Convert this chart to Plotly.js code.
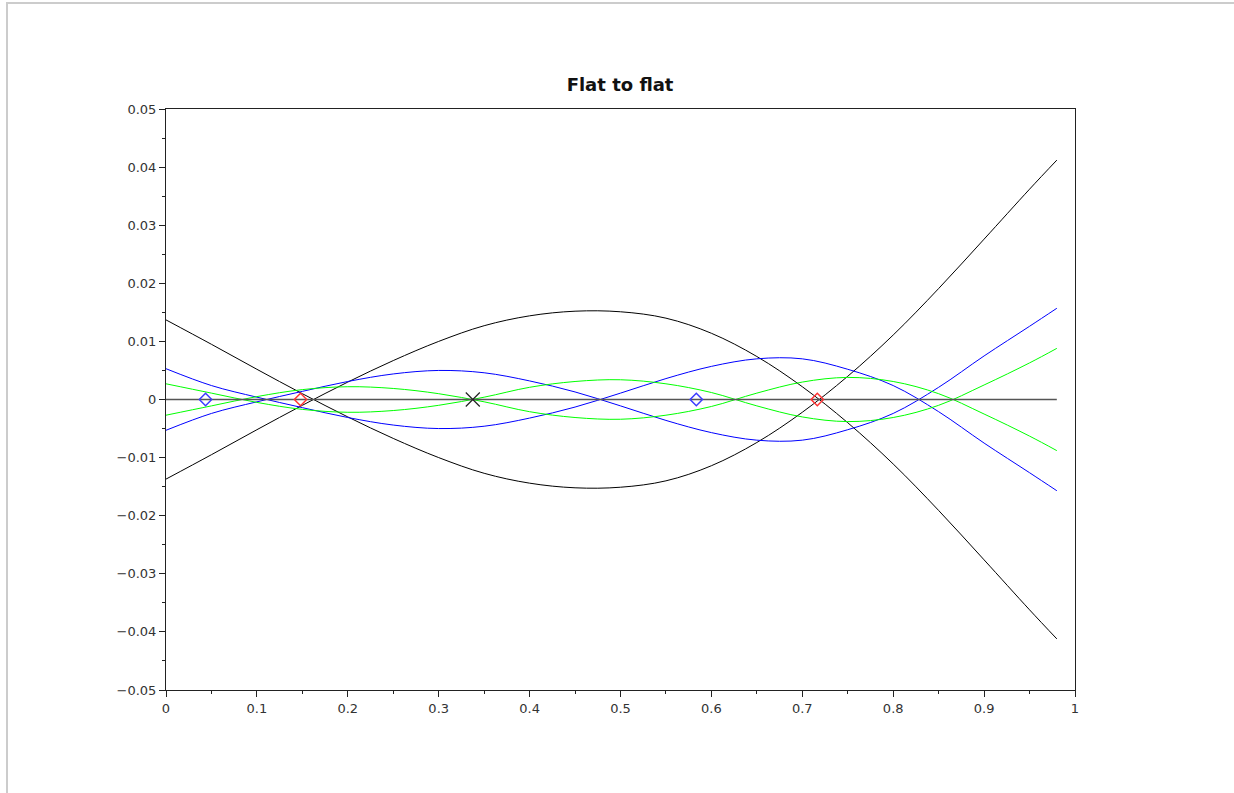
<!DOCTYPE html>
<html>
<head>
<meta charset="utf-8">
<script src="https://cdn.plot.ly/plotly-3.0.1.min.js"></script>
<style>
  html, body { margin: 0; padding: 0; background: #ffffff; }
  #frame { position: absolute; left: 6px; top: 2px; width: 1228px; height: 791px;
           border-left: 2px solid #cccccc; border-top: 2px solid #cccccc; box-sizing: border-box; }
  #chart { position: absolute; left: 0; top: 0; width: 1234px; height: 793px; }
</style>
</head>
<body>
<div id="frame"></div>
<div id="chart"></div>
<script>
// ---- data ----
const chartTitle = "Flat to flat";

const xs = [0, 0.05, 0.1, 0.15, 0.2, 0.25, 0.3, 0.35, 0.4, 0.45, 0.5, 0.55, 0.6, 0.65, 0.7, 0.75, 0.8, 0.85, 0.9, 0.95, 0.98];

const blackUp = [0.0137, 0.0095, 0.0052, 0.0010, -0.0030, -0.0067, -0.0100, -0.0127, -0.0144, -0.0152, -0.0151, -0.0140, -0.0114, -0.0074, -0.0022, 0.0040, 0.0111, 0.0191, 0.0276, 0.0362, 0.0412];
const blackDn = [-0.0137, -0.0095, -0.0052, -0.0010, 0.0030, 0.0067, 0.0100, 0.0127, 0.0144, 0.0152, 0.0151, 0.0140, 0.0114, 0.0074, 0.0022, -0.0040, -0.0111, -0.0191, -0.0276, -0.0362, -0.0412];

const blueA = [0.0053, 0.0024, 0.0004, -0.0014, -0.0031, -0.0044, -0.0050, -0.0046, -0.0032, -0.0013, 0.0011, 0.0036, 0.0057, 0.0070, 0.0070, 0.0052, 0.0024, -0.0021, -0.0075, -0.0126, -0.0157];
const blueB = [-0.0053, -0.0024, -0.0004, 0.0014, 0.0031, 0.0044, 0.0050, 0.0046, 0.0032, 0.0013, -0.0011, -0.0036, -0.0057, -0.0070, -0.0070, -0.0052, -0.0024, 0.0021, 0.0075, 0.0126, 0.0157];

const greenA = [0.0027, 0.0011, -0.0005, -0.0017, -0.0022, -0.0019, -0.0010, 0.0004, 0.0021, 0.0031, 0.0034, 0.0027, 0.0012, -0.0011, -0.0030, -0.0038, -0.0031, -0.0010, 0.0025, 0.0063, 0.0088];
const greenB = [-0.0027, -0.0011, 0.0005, 0.0017, 0.0022, 0.0019, 0.0010, -0.0004, -0.0021, -0.0031, -0.0034, -0.0027, -0.0012, 0.0011, 0.0030, 0.0038, 0.0031, 0.0010, -0.0025, -0.0063, -0.0088];

const zeroLineX = [0, 0.98];
const zeroLineY = [0, 0];

const blueMarkX  = [0.0435, 0.5834];
const blueMarkY  = [0, 0];
const redMarkX   = [0.148, 0.7165];
const redMarkY   = [0, 0];
const crossMarkX = [0.3375];
const crossMarkY = [0];

const xTickVals = [0, 0.1, 0.2, 0.3, 0.4, 0.5, 0.6, 0.7, 0.8, 0.9, 1];
const xTickText = ["0", "0.1", "0.2", "0.3", "0.4", "0.5", "0.6", "0.7", "0.8", "0.9", "1"];
const xMinorVals = [0.05, 0.15, 0.25, 0.35, 0.45, 0.55, 0.65, 0.75, 0.85, 0.95];
const yTickVals = [-0.05, -0.04, -0.03, -0.02, -0.01, 0, 0.01, 0.02, 0.03, 0.04, 0.05];
const yTickText = ["\u22120.05", "\u22120.04", "\u22120.03", "\u22120.02", "\u22120.01", "0", "0.01", "0.02", "0.03", "0.04", "0.05"];
const yMinorVals = [-0.045, -0.035, -0.025, -0.015, -0.005, 0.005, 0.015, 0.025, 0.035, 0.045];

// ---- traces ----
function curve(x, y, color) {
  return { x: x, y: y, type: 'scatter', mode: 'lines',
           line: { color: color, width: 1, shape: 'spline', smoothing: 1 },
           hoverinfo: 'skip', showlegend: false };
}
const traces = [
  curve(xs, blackUp, '#000000'),
  curve(xs, blackDn, '#000000'),
  curve(xs, blueA, '#0000ff'),
  curve(xs, blueB, '#0000ff'),
  curve(xs, greenA, '#00ff00'),
  curve(xs, greenB, '#00ff00'),
  { x: zeroLineX, y: zeroLineY, type: 'scatter', mode: 'lines',
    line: { color: '#555555', width: 1.5 }, hoverinfo: 'skip', showlegend: false },
  { x: blueMarkX, y: blueMarkY, type: 'scatter', mode: 'markers',
    marker: { symbol: 'diamond-open', size: 9.5, color: '#3b3bff', line: { width: 1.5 } },
    hoverinfo: 'skip', showlegend: false },
  { x: redMarkX, y: redMarkY, type: 'scatter', mode: 'markers',
    marker: { symbol: 'diamond-open', size: 9.5, color: '#ff3333', line: { width: 1.5 } },
    hoverinfo: 'skip', showlegend: false },
  { x: crossMarkX, y: crossMarkY, type: 'scatter', mode: 'markers',
    marker: { symbol: 'x-thin-open', size: 14, color: '#222222', line: { width: 1.2, color: '#222222' } },
    hoverinfo: 'skip', showlegend: false }
];

const axisCommon = {
  showline: true, linecolor: '#222222', linewidth: 1, mirror: true,
  showgrid: false, zeroline: false,
  ticks: 'outside', ticklen: 6, tickwidth: 1, tickcolor: '#222222',
  tickfont: { family: 'DejaVu Sans, sans-serif', size: 13, color: '#333333' },
  tickmode: 'array'
};

const layout = {
  width: 1234, height: 793,
  paper_bgcolor: 'rgba(0,0,0,0)', plot_bgcolor: '#ffffff',
  margin: { l: 166, r: 159, t: 109, b: 103 },
  title: { text: chartTitle, x: 0.5025, xanchor: 'center', y: 1 - 85 / 793, yanchor: 'middle', yref: 'container',
           font: { family: 'DejaVu Sans, sans-serif', size: 18, color: '#111111', weight: 'bold' } },
  xaxis: Object.assign({}, axisCommon, { range: [0, 1], tickvals: xTickVals, ticktext: xTickText,
           minor: { tickmode: 'array', tickvals: xMinorVals, ticks: 'outside', ticklen: 3, tickwidth: 1, tickcolor: '#222222', showgrid: false } }),
  yaxis: Object.assign({}, axisCommon, { range: [-0.05, 0.05], tickvals: yTickVals, ticktext: yTickText,
           minor: { tickmode: 'array', tickvals: yMinorVals, ticks: 'outside', ticklen: 3, tickwidth: 1, tickcolor: '#222222', showgrid: false } }),
  hovermode: false
};

Plotly.newPlot('chart', traces, layout, { staticPlot: true, displayModeBar: false });
</script>
</body>
</html>
